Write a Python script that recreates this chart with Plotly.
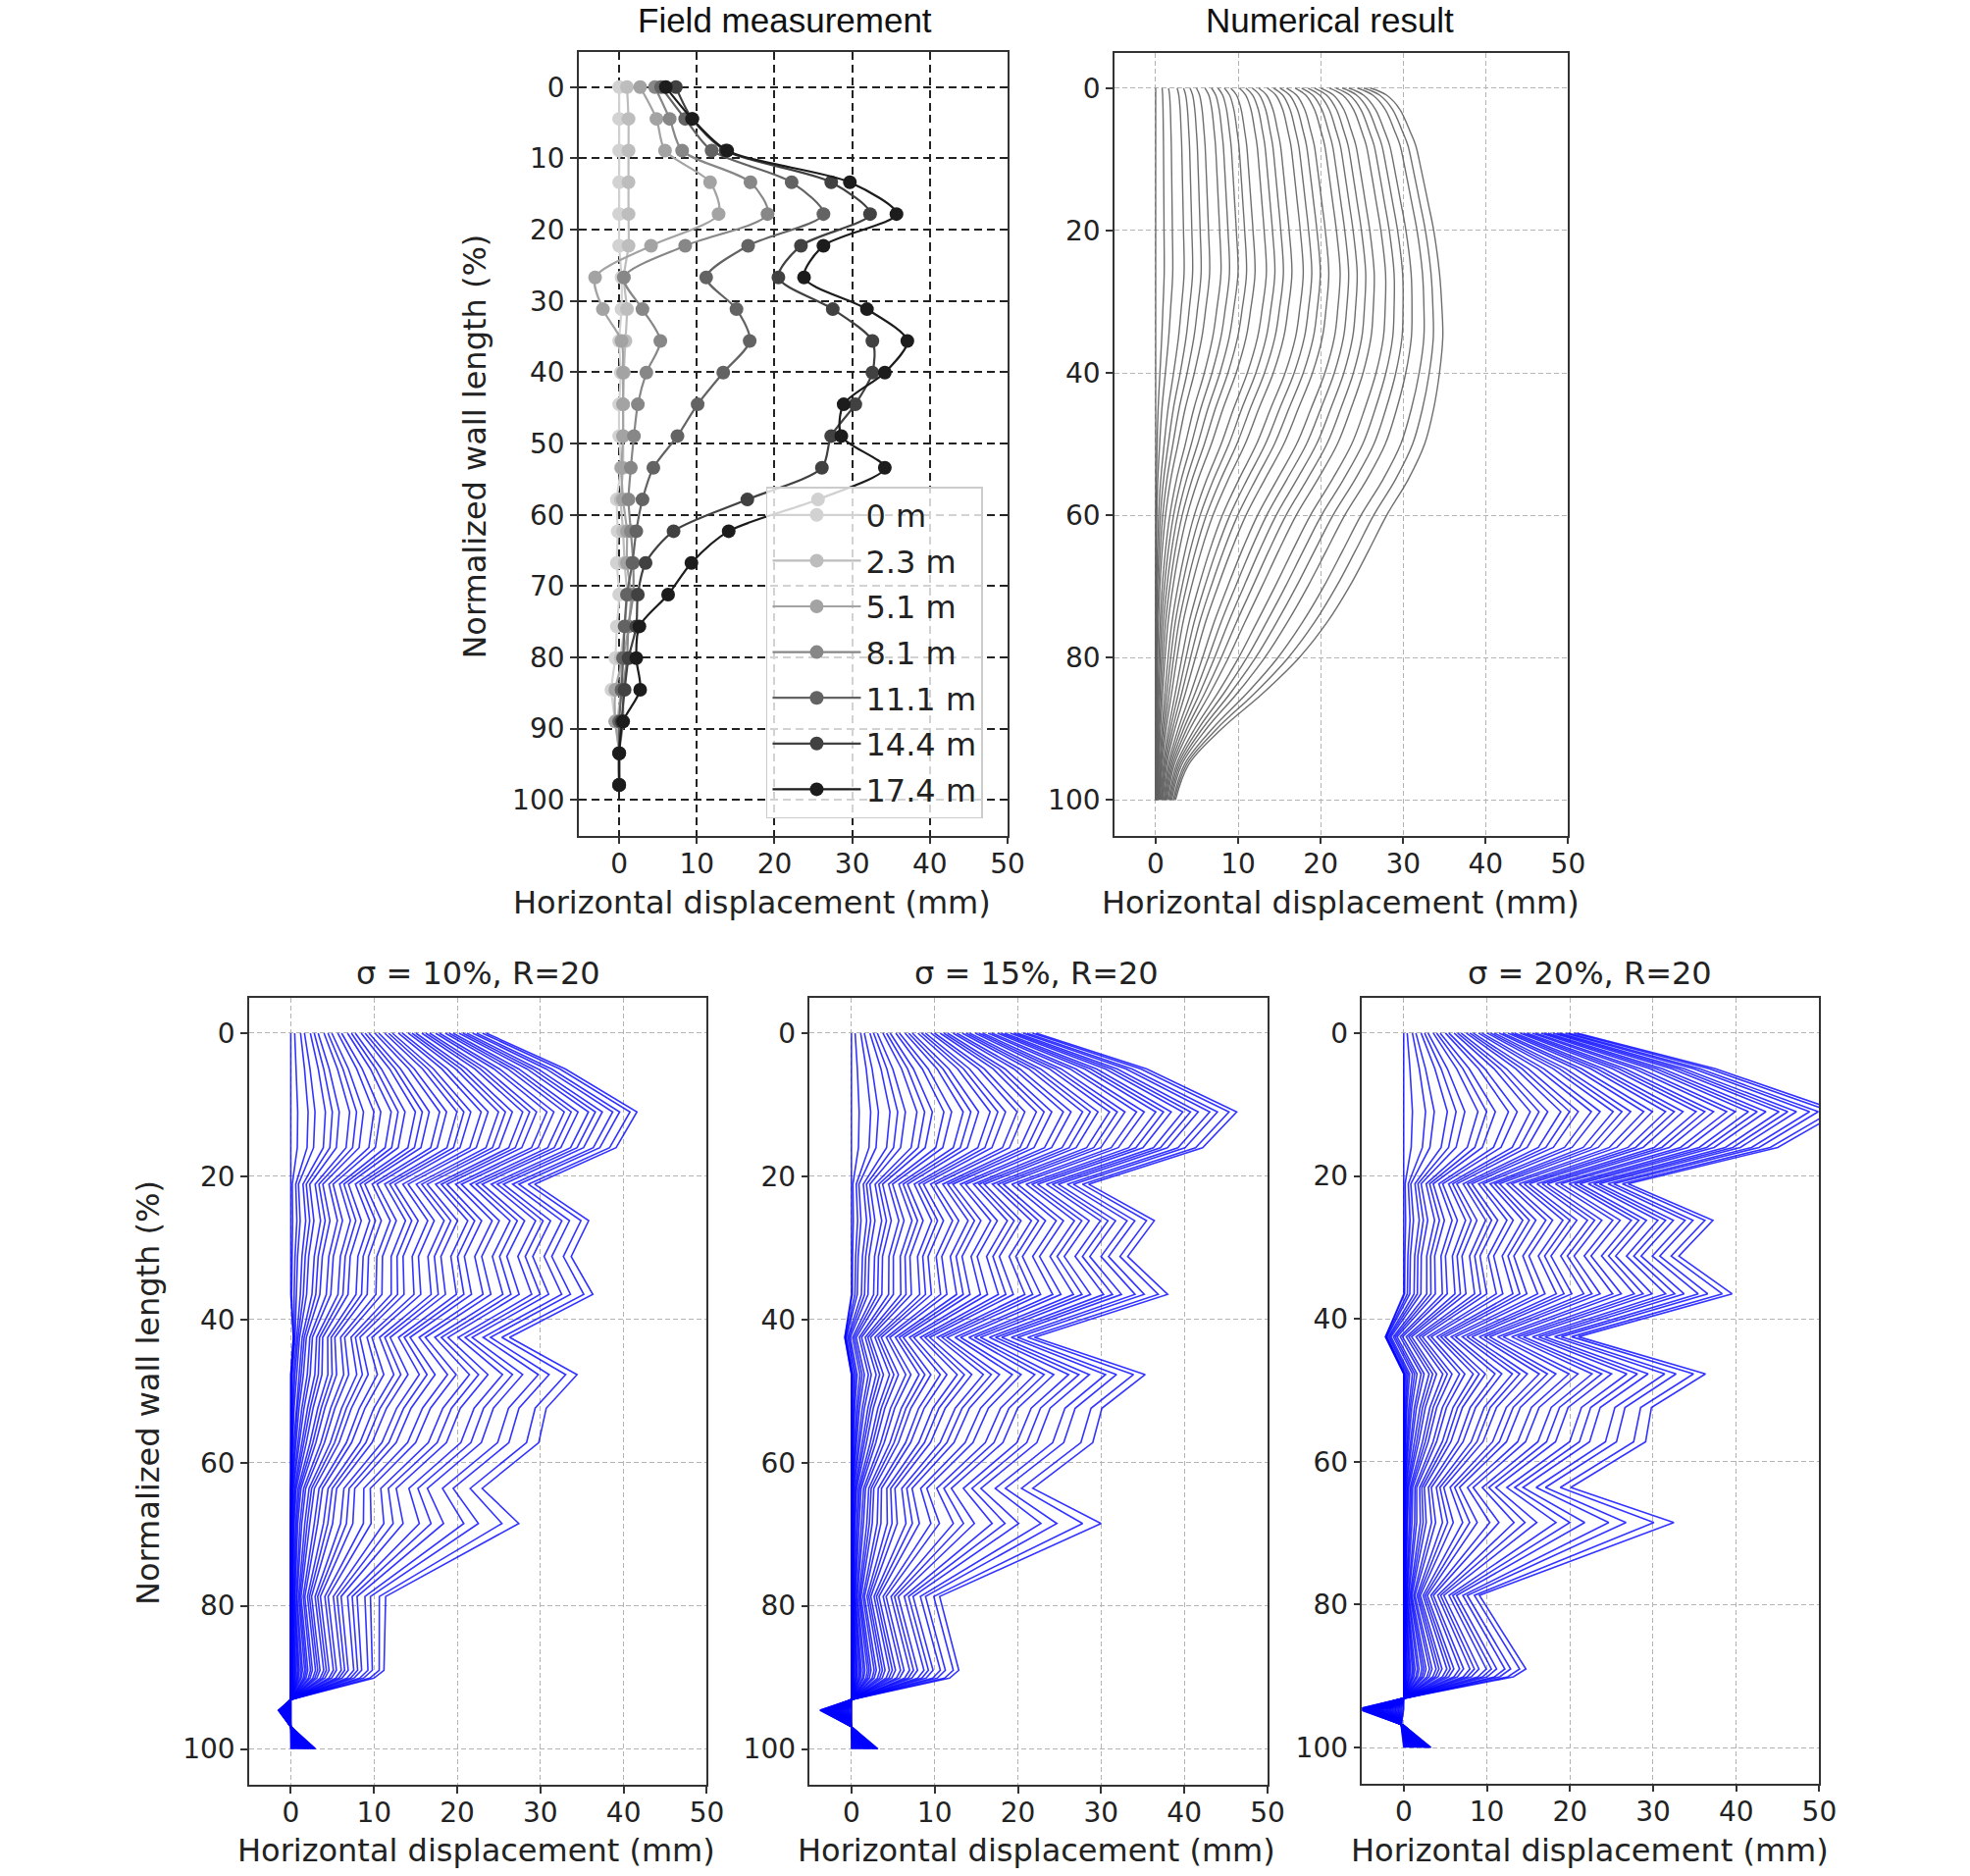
import plotly.graph_objects as go

W, H = 2008, 1912

# ---------------- Field measurement ----------------
field_depth = [0, 4.45, 8.9, 13.35, 17.8, 22.25, 26.7, 31.15, 35.6, 40.05, 44.5, 48.95,
               53.4, 57.85, 62.3, 66.75, 71.2, 75.65, 80.1, 84.55, 89.0, 93.45, 97.9]
field_labels = ["0 m", "2.3 m", "5.1 m", "8.1 m", "11.1 m", "14.4 m", "17.4 m"]
field_0m = [0.0, 0.0, 0.0, 0.0, 0.0, 0.0, 0.3, 0.3, 0.0, 0.2, 0.0, 0.0, 0.2, -0.3, -0.2, -0.3,
            0.0, -0.3, -0.5, -1.0, -0.5, 0.0, 0.0]
field_2_3m = [1.0, 1.2, 1.2, 1.2, 1.2, 1.2, 0.6, 1.0, 0.8, 0.6, 0.5, 0.5, 0.5, 0.2, 0.5, 0.7,
              1.0, 0.7, 0.2, 0.2, -0.2, 0.0, 0.0]
field_5_1m = [2.7, 4.8, 5.9, 11.7, 12.8, 4.1, -3.1, -2.1, 0.3, 0.5, 0.5, 0.5, 0.3, 0.5, 1.0, 1.0,
              1.5, 1.2, 0.5, -0.5, -0.5, 0.0, 0.0]
field_8_1m = [4.6, 6.5, 8.1, 16.9, 19.1, 8.5, 0.6, 3.0, 5.3, 3.5, 2.4, 1.9, 1.5, 1.2, 1.5, 1.8,
              1.8, 1.2, 1.0, 0.5, 0.5, 0.0, 0.0]
field_11_1m = [5.4, 8.5, 11.9, 22.2, 26.3, 16.6, 11.2, 15.1, 16.8, 13.4, 10.1, 7.5, 4.4, 3.0,
               2.2, 1.7, 1.0, 0.7, 0.5, 0.3, 0.0, 0.0, 0.0]
field_14_4m = [7.3, 9.4, 13.7, 27.3, 32.3, 23.4, 20.5, 27.5, 32.6, 32.6, 30.4, 27.3, 26.1, 16.5,
               7.0, 3.4, 2.4, 2.2, 1.2, 0.7, 0.3, 0.0, 0.0]
field_17_4m = [6.0, 9.4, 13.9, 29.7, 35.7, 26.3, 23.8, 31.9, 37.1, 34.2, 28.9, 28.6, 34.2, 25.6,
               14.1, 9.3, 6.3, 2.6, 2.2, 2.7, 0.5, 0.0, 0.0]
field_series = [field_0m, field_2_3m, field_5_1m, field_8_1m, field_11_1m, field_14_4m, field_17_4m]
field_colors = ["#d2d2d2", "#bdbdbd", "#a3a3a3", "#878787", "#636363", "#414141", "#1c1c1c"]

# ---------------- Numerical result ----------------
num_depth = [0, 1, 3, 6, 8, 11, 16, 20, 26, 31, 35, 40, 45, 50, 55, 60, 65, 70, 75, 80, 85, 90, 95, 100]
num_outer = [26.0, 28.0, 29.6, 30.8, 31.5, 32.1, 33.0, 33.7, 34.4, 34.7, 34.8, 34.4, 33.7, 32.6,
             30.6, 28.0, 25.8, 23.5, 20.8, 17.4, 13.0, 8.0, 4.0, 2.4]
num_lag = [1, 1, 1, 1, 1, 1, 1, 1, 1, 1.05, 1.1, 1.2, 1.35, 1.5, 1.7, 1.9, 2.1, 2.3, 2.5, 2.6,
           2.6, 2.5, 2.2, 2.0]
num_levels = [0.00, 0.03, 0.06, 0.10, 0.13, 0.16, 0.19, 0.23, 0.26, 0.29, 0.32, 0.35, 0.39, 0.42,
              0.45, 0.48, 0.52, 0.55, 0.58, 0.61, 0.65, 0.68, 0.71, 0.74, 0.77, 0.81, 0.84, 0.87,
              0.90, 0.94, 0.97, 1.00]

# ---------------- Stochastic results (bottom row) ----------------
bottom_depth = [0, 5, 11, 16, 21.1, 26.2, 31.2, 36.5, 42.5, 47.7, 52.4, 57.2, 63.6, 68.5, 78.7,
                89, 90.1, 93.1, 94.6, 96.9, 100]
bottom_lag = [1, 1, 1, 1, 1.3, 1.3, 1.4, 1.5, 1.8, 2.0, 2.2, 2.5, 3.2, 3.8, 3.4, 2.6, 2.6, 1, 1, 1, 1]
bottom_levels = [0.00, 0.02, 0.05, 0.07, 0.10, 0.12, 0.14, 0.17, 0.19, 0.21, 0.24, 0.26, 0.29,
                 0.31, 0.33, 0.36, 0.38, 0.40, 0.43, 0.45, 0.48, 0.50, 0.52, 0.55, 0.57, 0.60,
                 0.62, 0.64, 0.67, 0.69, 0.71, 0.74, 0.76, 0.79, 0.81, 0.83, 0.86, 0.88, 0.90,
                 0.93, 0.95, 0.98, 1.00]
b10_outer = [23.5, 33.0, 41.6, 39.1, 29.3, 35.8, 33.7, 36.3, 26.3, 34.4, 30.7, 29.8, 23.0, 27.4,
             11.4, 11.2, 10.0, 0.0, -1.5, 0.0, 3.0]
b15_outer = [22.2, 35.5, 46.3, 42.2, 28.5, 36.4, 33.2, 38.0, 22.0, 35.3, 30.1, 29.0, 21.8, 30.0,
             10.6, 12.9, 11.8, 0.0, -3.8, 0.0, 3.2]
b20_outer = [20.9, 37.5, 52.5, 45.0, 27.0, 37.2, 33.1, 39.5, 21.0, 36.3, 29.8, 29.1, 20.1, 32.5,
             9.1, 14.7, 13.2, 0.0, -5.5, 0.0, 3.3]
b10_inner = [0, 0, 0, 0, 0, 0, 0, 0, 0.3, 0, 0, 0, 0, 0, 0, 0, 0, 0, 0, 0, 0]
b15_inner = [0, 0, 0, 0, 0, 0, 0, 0, -0.8, 0, 0, 0, 0, 0, 0, 0, 0, 0, 0, 0, 0]
b20_inner = [0, 0, 0, 0, 0, 0, 0, 0, -2.2, 0, 0, 0, 0, 0, 0, 0, 0, 0, 0, -0.3, 0]
bottom_titles = ["σ = 10%, R=20", "σ = 15%, R=20", "σ = 20%, R=20"]

# ---------------- Layout geometry (pixels) ----------------
panels = {
    "field": (590, 1027, 52.5, 851.6),
    "num": (1136, 1598.5, 53.5, 851.6),
    "b10": (254, 720.5, 1016.5, 1819),
    "b15": (825.5, 1292, 1016.5, 1819),
    "b20": (1388.5, 1854.5, 1016.5, 1817.5),
}
XS = 1.009  # horizontal calibration of measured pixel positions


def pxx(x):
    return x * XS / W


def pxy(y):
    return 1 - y / H


fig = go.Figure()


def family(outer, inner, lag, levels):
    out = []
    for lv in levels:
        out.append([b + (o - b) * (lv ** p) for o, b, p in zip(outer, inner, lag)])
    return out


# numerical curves
for xs in family(num_outer, [0] * len(num_outer), num_lag, num_levels):
    fig.add_trace(go.Scatter(x=xs, y=num_depth, mode="lines", xaxis="x2", yaxis="y2",
                             line=dict(color="rgba(95,95,95,0.9)", width=1.4, shape="spline",
                                       smoothing=1.0),
                             showlegend=False, hoverinfo="skip"))

# bottom curves
for ax, outer, inner in [("3", b10_outer, b10_inner), ("4", b15_outer, b15_inner),
                         ("5", b20_outer, b20_inner)]:
    for xs in family(outer, inner, bottom_lag, bottom_levels):
        fig.add_trace(go.Scatter(x=xs, y=bottom_depth, mode="lines", xaxis="x" + ax,
                                 yaxis="y" + ax,
                                 line=dict(color="rgba(0,0,255,0.8)", width=1.6),
                                 showlegend=False, hoverinfo="skip"))

# field curves
for i, (lab, vals, col) in enumerate(zip(field_labels, field_series, field_colors)):
    fig.add_trace(go.Scatter(x=vals, y=field_depth, mode="lines+markers", name=lab,
                             xaxis="x", yaxis="y", legendgroup=lab,
                             line=dict(color=col, width=2.2, shape="spline", smoothing=0.8),
                             marker=dict(color=col, size=14)))

tickfont = dict(family="DejaVu Sans", size=28, color="#222222")


def xaxis(key, rng, anchor, dark=False):
    x0, x1, y0, y1 = panels[key]
    return dict(domain=[pxx(x0), pxx(x1)], range=rng, anchor=anchor,
                tickvals=[0, 10, 20, 30, 40, 50], ticks="outside", ticklen=7, tickwidth=1.5,
                tickcolor="#333333", showline=True, mirror=True, linecolor="#333333",
                linewidth=1.6, showgrid=True, ticklabelstandoff=-4,
                gridcolor="#222222" if dark else "#b4b4b4",
                griddash="8px,5px" if dark else "5px,3px",
                gridwidth=1.6 if dark else 1.0, zeroline=False, tickfont=tickfont)


def yaxis(key, ticks, anchor, dark=False):
    x0, x1, y0, y1 = panels[key]
    return dict(domain=[pxy(y1), pxy(y0)], range=[105, -5], anchor=anchor,
                tickvals=ticks, ticks="outside", ticklen=7, tickwidth=1.5,
                tickcolor="#333333", showline=True, mirror=True, linecolor="#333333",
                linewidth=1.6, showgrid=True,
                gridcolor="#222222" if dark else "#b4b4b4",
                griddash="8px,5px" if dark else "5px,3px",
                gridwidth=1.6 if dark else 1.0, zeroline=False, tickfont=tickfont)


t10 = [0, 10, 20, 30, 40, 50, 60, 70, 80, 90, 100]
t20 = [0, 20, 40, 60, 80, 100]

fig.update_layout(
    width=W, height=H, margin=dict(l=0, r=0, t=0, b=0),
    paper_bgcolor="white", plot_bgcolor="white",
    xaxis=xaxis("field", [-5.2, 50], "y", dark=True),
    yaxis=yaxis("field", t10, "x", dark=True),
    xaxis2=xaxis("num", [-5, 50], "y2"),
    yaxis2=yaxis("num", t20, "x2"),
    xaxis3=xaxis("b10", [-5, 50], "y3"),
    yaxis3=yaxis("b10", t20, "x3"),
    xaxis4=xaxis("b15", [-5, 50], "y4"),
    yaxis4=yaxis("b15", t20, "x4"),
    xaxis5=xaxis("b20", [-5, 50], "y5"),
    yaxis5=yaxis("b20", t20, "x5"),
    legend=dict(x=pxx(781), y=pxy(496), xanchor="left", yanchor="top",
                bgcolor="rgba(255,255,255,0.8)", bordercolor="#cccccc", borderwidth=1.5,
                font=dict(family="DejaVu Sans", size=32, color="#222222"),
                tracegroupgap=2, itemwidth=90),
    showlegend=True,
)

annos = []
title_font_a = dict(family="Liberation Sans, Arial", size=35, color="#111111")
lab_font = dict(family="DejaVu Sans", size=32, color="#222222")
annos.append(dict(text="Field measurement", x=800, y=20.5, font=title_font_a))
annos.append(dict(text="Numerical result", x=1356, y=20.5, font=title_font_a))
for t, cx in zip(bottom_titles, [488, 1057, 1621]):
    annos.append(dict(text=t, x=cx, y=992, font=lab_font))
for cx, cy in [(766.7, 919.5), (1366.4, 919.5), (486, 1886), (1057, 1886), (1620.6, 1886)]:
    annos.append(dict(text="Horizontal displacement (mm)", x=cx, y=cy, font=lab_font))
for cx, cy in [(484, 454.6), (151, 1419)]:
    annos.append(dict(text="Normalized wall length (%)", x=cx, y=cy, font=lab_font, textangle=-90))

for a in annos:
    fig.add_annotation(text=a["text"], x=pxx(a["x"]), y=pxy(a["y"]), xref="paper", yref="paper",
                       xanchor="center", yanchor="middle", showarrow=False, font=a["font"],
                       textangle=a.get("textangle", 0))

fig.write_html("out.html")
